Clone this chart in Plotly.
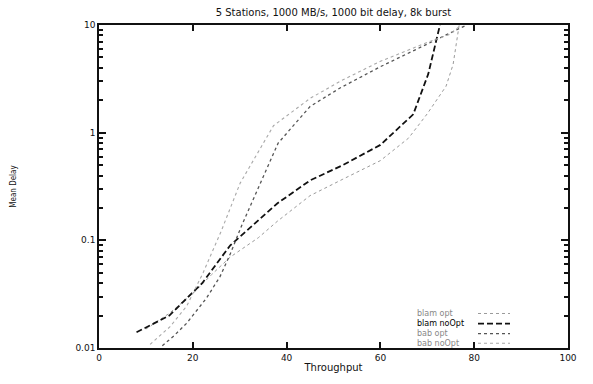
import plotly.graph_objects as go

# Data
blam_opt_x = [10, 15, 20, 24, 28, 34, 38, 45, 52, 60, 66, 70, 74, 75.5, 76.8]
blam_opt_y = [0.015, 0.021, 0.032, 0.048, 0.07, 0.106, 0.15, 0.26, 0.37, 0.55, 0.89, 1.5, 2.7, 4.3, 10]

blam_noopt_x = [8, 12, 15, 18, 22, 28, 33.6, 38, 45, 52, 60, 67, 70.2, 72.7]
blam_noopt_y = [0.014, 0.017, 0.02, 0.027, 0.04, 0.09, 0.15, 0.22, 0.36, 0.5, 0.77, 1.48, 3.5, 10]

bab_opt_x = [13.5, 16, 18.7, 22.9, 25.8, 28, 30.5, 33.6, 38.2, 45, 51.4, 60, 70, 74, 78.4]
bab_opt_y = [0.0105, 0.013, 0.017, 0.029, 0.046, 0.075, 0.14, 0.28, 0.8, 1.75, 2.6, 4.1, 6.6, 8.0, 10]

bab_noopt_x = [10.9, 15.1, 18.7, 22.2, 26, 30.1, 37.2, 45, 51.4, 60, 70, 74.8, 77.2]
bab_noopt_y = [0.0108, 0.0157, 0.0245, 0.05, 0.12, 0.34, 1.16, 2.08, 3.0, 4.6, 6.9, 8.2, 10]

x_ticks = [0, 20, 40, 60, 80, 100]
y_ticks = [0.01, 0.1, 1, 10]
y_tick_text = ["0.01", "0.1", "1", "10"]

series = [
    ("blam opt", blam_opt_x, blam_opt_y, "#9a9a9a", 1.0, "3px,3px"),
    ("blam noOpt", blam_noopt_x, blam_noopt_y, "#111111", 1.8, "6px,3px"),
    ("bab opt", bab_opt_x, bab_opt_y, "#555555", 1.3, "dot"),
    ("bab noOpt", bab_noopt_x, bab_noopt_y, "#a8a8a8", 1.1, "dot"),
]

fig = go.Figure()
for name, xs, ys, col, w, d in series:
    fig.add_trace(go.Scatter(x=xs, y=ys, mode="lines", name=name,
                             line=dict(color=col, width=w, dash=d),
                             showlegend=False))

# manual legend: text left, line sample right
L, R, T, B = 99, 568, 25, 362
W, H = 593, 384
leg_y = [326, 336.5, 347, 357]
for (name, xs, ys, col, w, d), yy in zip(series, leg_y):
    py = 1 - (yy - T) / (B - T)
    fig.add_annotation(xref="paper", yref="paper", x=(415 - L) / (R - L), y=py,
                       text=name, showarrow=False, xanchor="left", yanchor="middle",
                       font=dict(family="DejaVu Sans", size=8,
                                 color="#000" if name == "blam noOpt" else "#888"))
    fig.add_shape(type="line", xref="paper", yref="paper",
                  x0=(478 - L) / (R - L), x1=(510 - L) / (R - L), y0=py, y1=py,
                  line=dict(color=col, width=w, dash=d))

fig.update_layout(
    width=W, height=H,
    margin=dict(l=L, r=W - R, t=T, b=H - B),
    plot_bgcolor="white", paper_bgcolor="white",
    title=dict(text="5 Stations, 1000 MB/s, 1000 bit delay, 8k burst",
               x=(L + R) / 2 / W, xanchor="center", y=1 - 12 / H, yanchor="middle",
               font=dict(family="DejaVu Sans", size=10, color="#111")),
    font=dict(family="DejaVu Sans", size=9, color="#111"),
)
fig.update_xaxes(range=[0, 100], tickvals=x_ticks, ticks="inside", ticklen=6,
                 tickwidth=1.5, tickcolor="#111", showline=True, linecolor="#111",
                 linewidth=1.5, mirror="ticks", showgrid=False, zeroline=False,
                 title=dict(text="Throughput", font=dict(size=10), standoff=2),
                 tickfont=dict(size=9))
fig.update_yaxes(type="log", range=[-2, 1], tickvals=y_ticks, ticktext=y_tick_text,
                 ticks="inside", ticklen=7, tickwidth=1.5, tickcolor="#111",
                 showline=True, linecolor="#111", linewidth=1.5, mirror="ticks",
                 showgrid=False, zeroline=False,
                 minor=dict(ticks="inside", ticklen=4, tickcolor="#111",
                            tickvals=[a * b for b in [0.01, 0.1, 1] for a in range(2, 10)]),
                 tickfont=dict(size=9),
                 title=dict(text="Mean Delay", font=dict(family="Liberation Sans Narrow, DejaVu Sans Condensed", size=8), standoff=58))

fig.write_html("out.html")
